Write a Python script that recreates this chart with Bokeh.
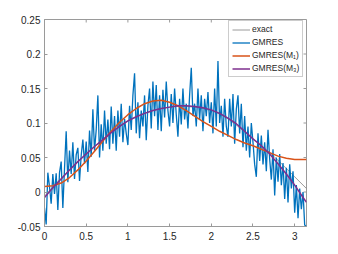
from bokeh.plotting import figure
from bokeh.models import Range1d, FixedTicker, Legend, LegendItem
from bokeh.embed import file_html
from bokeh.resources import INLINE
import numpy as np

# smooth curves sampled every 0.1 (last point at pi)
x_s = [0.0, 0.1, 0.2, 0.3, 0.4, 0.5, 0.6, 0.7, 0.8, 0.9, 1.0, 1.1, 1.2, 1.3, 1.4, 1.5, 1.6,
       1.7, 1.8, 1.9, 2.0, 2.1, 2.2, 2.3, 2.4, 2.5, 2.6, 2.7, 2.8, 2.9, 3.0, 3.1, 3.14159]
exact = [-0.006, 0.007, 0.020, 0.032, 0.044, 0.055, 0.066, 0.076, 0.086, 0.095, 0.103, 0.109,
         0.114, 0.118, 0.121, 0.123, 0.124, 0.124, 0.123, 0.121, 0.118, 0.113, 0.106, 0.097,
         0.087, 0.077, 0.067, 0.057, 0.046, 0.034, 0.022, 0.010, 0.005]
gmres_m1 = [0.008, 0.009, 0.013, 0.021, 0.032, 0.045, 0.059, 0.074, 0.088, 0.101, 0.112, 0.121,
            0.128, 0.132, 0.133, 0.130, 0.125, 0.118, 0.110, 0.102, 0.095, 0.088, 0.082, 0.076,
            0.071, 0.067, 0.062, 0.057, 0.052, 0.049, 0.047, 0.047, 0.047]
gmres_m3 = [-0.008, 0.006, 0.019, 0.032, 0.044, 0.055, 0.066, 0.076, 0.086, 0.095, 0.103, 0.109,
            0.114, 0.118, 0.121, 0.123, 0.125, 0.125, 0.124, 0.122, 0.119, 0.114, 0.107, 0.099,
            0.088, 0.077, 0.067, 0.055, 0.041, 0.026, 0.010, -0.008, -0.015]

# noisy GMRES solution, sampled every 0.02 from 0 to 3.14
gmres_step = 0.02
gmres = [
    -0.023, -0.047, 0.028, 0.008, -0.017, 0.026, -0.003, 0.027, -0.026, 0.028,
    0.044, -0.023, 0.034, 0.088, 0.014, 0.060, 0.026, 0.072, 0.019, 0.054,
    0.064, 0.016, 0.053, 0.076, 0.041, 0.073, 0.029, 0.089, 0.051, 0.120,
    0.060, 0.090, 0.140, 0.050, 0.098, 0.060, 0.118, 0.070, 0.105, 0.062,
    0.124, 0.070, 0.110, 0.060, 0.118, 0.080, 0.128, 0.072, 0.106, 0.085,
    0.068, 0.125, 0.090, 0.140, 0.172, 0.085, 0.130, 0.078, 0.118, 0.095,
    0.140, 0.075, 0.125, 0.150, 0.092, 0.160, 0.110, 0.155, 0.090, 0.140,
    0.088, 0.148, 0.108, 0.160, 0.118, 0.095, 0.142, 0.100, 0.150, 0.112,
    0.080, 0.135, 0.098, 0.150, 0.105, 0.128, 0.092, 0.140, 0.180, 0.110,
    0.128, 0.095, 0.150, 0.105, 0.140, 0.088, 0.135, 0.110, 0.145, 0.100,
    0.130, 0.085, 0.150, 0.095, 0.190, 0.100, 0.125, 0.080, 0.135, 0.095,
    0.080, 0.135, 0.095, 0.142, 0.070, 0.120, 0.140, 0.085, 0.128, 0.065,
    0.110, 0.060, 0.095, 0.050, 0.100, 0.072, 0.040, 0.022, 0.085, 0.045,
    0.082, 0.040, 0.072, 0.030, 0.090, 0.048, 0.018, 0.062, -0.005, 0.050,
    0.015, 0.055, 0.010, 0.042, -0.010, 0.035, -0.015, 0.040, 0.005, 0.030,
    -0.030, 0.010, -0.038, 0.005, -0.025, 0.000, -0.048, -0.050,
]
x_g = list(np.arange(len(gmres)) * gmres_step)

x_ticks = [0, 0.5, 1, 1.5, 2, 2.5, 3]
x_labels = ["0", "0.5", "1", "1.5", "2", "2.5", "3"]
y_ticks = [-0.05, 0, 0.05, 0.1, 0.15, 0.2, 0.25]
y_labels = ["-0.05", "0", "0.05", "0.1", "0.15", "0.2", "0.25"]
x_lim = (0, 3.14159)
y_lim = (-0.05, 0.25)

FONT = "Liberation Sans"
AX = "#9a9a9a"
TXT = "#262626"

p = figure(width=338, height=254, output_backend="svg", toolbar_location=None,
           x_range=Range1d(*x_lim), y_range=Range1d(*y_lim),
           min_border_left=44, min_border_right=32, min_border_top=19, min_border_bottom=28)
p.xgrid.visible = False
p.ygrid.visible = False
p.outline_line_color = AX
p.background_fill_color = "white"
p.border_fill_color = "white"

def style(ax, ticks, labels):
    ax.ticker = FixedTicker(ticks=ticks)
    ax.major_label_overrides = {t: l for t, l in zip(ticks, labels)}
    ax.axis_line_color = AX
    ax.major_tick_line_color = AX
    ax.major_tick_in = 3
    ax.major_tick_out = 0
    ax.minor_tick_line_color = None
    ax.major_label_text_font = FONT
    ax.major_label_text_font_size = "10px"
    ax.major_label_text_color = TXT

style(p.xaxis[0], x_ticks, x_labels)
style(p.yaxis[0], y_ticks, y_labels)
p.xaxis[0].major_label_standoff = 5
p.yaxis[0].major_label_standoff = 4

# box ticks on the top and right edges (half of each dash is clipped by the frame)
p.scatter(x_ticks, [y_lim[1]] * len(x_ticks), marker="dash", angle=np.pi / 2,
          size=6, line_color=AX, line_width=1)
p.scatter([x_lim[1]] * len(y_ticks), y_ticks, marker="dash",
          size=6, line_color=AX, line_width=1)

r0 = p.line(x_s, exact, line_color="#808080", line_width=0.8)
r1 = p.line(x_g, gmres, line_color="#0072BD", line_width=1.3)
r2 = p.line(x_s, gmres_m1, line_color="#D95319", line_width=1.5)
r3 = p.line(x_s, gmres_m3, line_color="#7E2F8E", line_width=1.5)

legend = Legend(items=[
    LegendItem(label="exact", renderers=[r0]),
    LegendItem(label="GMRES", renderers=[r1]),
    LegendItem(label="GMRES(M\u2081)", renderers=[r2]),
    LegendItem(label="GMRES(M\u2083)", renderers=[r3]),
], location=(184, 149))
legend.label_text_font = FONT
legend.label_text_font_size = "8.5px"
legend.label_text_color = TXT
legend.label_height = 9
legend.glyph_height = 9
legend.glyph_width = 18
legend.label_standoff = 2
legend.spacing = 3
legend.padding = 3
legend.margin = 0
legend.border_line_color = AX
legend.border_line_width = 1
legend.background_fill_alpha = 1.0
p.add_layout(legend, "center")

open("out.html", "w").write(file_html(p, INLINE))
